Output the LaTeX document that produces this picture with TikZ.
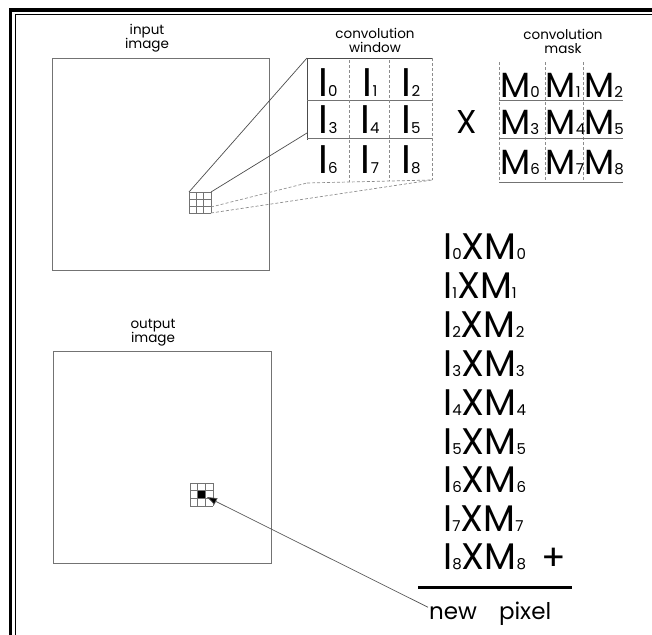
\documentclass[tikz,border=0pt]{standalone}
\usepackage{fontspec}
\setmainfont{Poppins}
\usetikzlibrary{arrows.meta}
\newcommand\dsub[1]{{\fontsize{15}{15}\selectfont #1}}
\tikzset{
  frameouter/.style={line width=3.3pt, draw=black},
  frameinner/.style={line width=1.4pt, draw=black},
  boxline/.style={draw=black!55, line width=0.8pt},
  gridline/.style={draw=black!55, line width=0.7pt},
  dotline/.style={draw=black!45, line width=0.7pt, dash pattern=on 3pt off 2pt},
  projline/.style={draw=black!70, line width=0.7pt},
  lbl/.style={inner sep=0pt, align=center, font=\fontsize{13.5}{14}\selectfont},
  cellI/.style={inner sep=0pt, anchor=base, font=\fontsize{40}{40}\selectfont},
  cellM/.style={inner sep=0pt, anchor=base west, font=\fontsize{35}{35}\selectfont},
  sumrow/.style={inner sep=0pt, anchor=base west, font=\fontsize{37}{37}\selectfont},
}
\begin{document}
\begin{tikzpicture}[x=1pt,y=-1pt]
\useasboundingbox (0,0) rectangle (652,634);
\clip (0,0) rectangle (652,634);
% frame
\draw[frameouter] (10.5,10) rectangle (720,720);
\draw[frameinner] (15.3,14.8) rectangle (720,720);

% input image
\node[lbl] (inlbl) at (147,38) {input\\image};
\coordinate (inTL) at (52,58);
\coordinate (inBR) at (269,270);
\draw[boxline] (inTL) rectangle (inBR);
% small grid in input
\foreach \i in {0,1,2,3} {
  \draw[gridline] ({189+\i*22/3},192) -- ({189+\i*22/3},213);
  \draw[gridline] (189,{192+\i*21/3}) -- (211,{192+\i*21/3});
}
\coordinate (gTL) at (189,192);
\coordinate (gTR) at (211,192);
\coordinate (gRM) at (211,207);
\coordinate (gBR) at (211,213);

% convolution window
\node[lbl] (winlbl) at (375,40) {convolution\\window};
\coordinate (wTL) at (307,58);
\coordinate (wTR) at (432,58);
\coordinate (wL2) at (307,133);
\coordinate (wBL) at (307,183);
\coordinate (wBR) at (432,180);
\draw[projline] (wTL) -- (wTR);
\draw[projline] (wTL) -- (307,140);
\draw[gridline] (307,100) -- (432,100);
\draw[gridline] (307,138) -- (432,138);
\draw[dotline] (wBL) -- (wBR);
\draw[dotline] (wTR) -- (wBR);
\draw[dotline] (349,60) -- (349,182);
\draw[dotline] (389,60) -- (389,181);
\draw[projline] (gTL) -- (wTL);
\draw[projline] (gTR) -- (wL2);
\draw[dotline] (gRM) -- (wBL);
\draw[dotline] (gBR) -- (wBR);

\node[cellI] (I0) at (328,96) {I\dsub{0}};
\node[cellI] (I1) at (370,96) {I\dsub{1}};
\node[cellI] (I2) at (411,96) {I\dsub{2}};
\node[cellI] (I3) at (328,133) {I\dsub{3}};
\node[cellI] (I4) at (370,133) {I\dsub{4}};
\node[cellI] (I5) at (411,133) {I\dsub{5}};
\node[cellI] (I6) at (328,173) {I\dsub{6}};
\node[cellI] (I7) at (370,173) {I\dsub{7}};
\node[cellI] (I8) at (411,173) {I\dsub{8}};

% times sign
\node[inner sep=0pt, font=\fontsize{33}{33}\selectfont] (times) at (467,122) {X};

% convolution mask
\node[lbl] (masklbl) at (563,41) {convolution\\mask};
\draw[dotline] (499,62) -- (499,182);
\draw[dotline] (545,62) -- (545,182);
\draw[dotline] (583,62) -- (583,182);
\draw[gridline] (499,100) -- (623,100);
\draw[gridline] (499,138) -- (623,138);
\draw[gridline] (499,182) -- (623,182);
\node[cellM] (M0) at (500,97) {M\dsub{0}};
\node[cellM] (M1) at (545.5,97) {M\dsub{1}};
\node[cellM] (M2) at (584,97) {M\dsub{2}};
\node[cellM] (M3) at (500,134) {M\dsub{3}};
\node[cellM] (M4) at (545.5,134) {M\dsub{4}};
\node[cellM] (M5) at (584,134) {M\dsub{5}};
\node[cellM] (M6) at (500,174) {M\dsub{6}};
\node[cellM] (M7) at (545.5,174) {M\dsub{7}};
\node[cellM] (M8) at (584,174) {M\dsub{8}};

% products
\node[sumrow] (p0) at (443,259) {I\dsub{0}XM\dsub{0}};
\node[sumrow] (p1) at (443,298) {I\dsub{1}XM\dsub{1}};
\node[sumrow] (p2) at (443,337) {I\dsub{2}XM\dsub{2}};
\node[sumrow] (p3) at (443,376) {I\dsub{3}XM\dsub{3}};
\node[sumrow] (p4) at (443,415) {I\dsub{4}XM\dsub{4}};
\node[sumrow] (p5) at (443,454) {I\dsub{5}XM\dsub{5}};
\node[sumrow] (p6) at (443,492) {I\dsub{6}XM\dsub{6}};
\node[sumrow] (p7) at (443,531) {I\dsub{7}XM\dsub{7}};
\node[sumrow] (p8) at (443,569) {I\dsub{8}XM\dsub{8}};
\node[inner sep=0pt, font=\fontsize{36}{36}\selectfont] (plus) at (554,559) {+};
\draw[line width=3pt] (418,587) -- (572,587);
\node[inner sep=0pt, anchor=base west, font=\fontsize{23}{23}\selectfont] (newpx) at (429,619) {new\hspace{22pt}pixel};

% output image
\node[lbl] (outlbl) at (153,333) {output\\image};
\draw[boxline] (53,351) rectangle (271,563);
\foreach \i in {0,1,2,3} {
  \draw[gridline] ({190+\i*23/3},483) -- ({190+\i*23/3},506);
  \draw[gridline] (190,{483+\i*23/3}) -- (213,{483+\i*23/3});
}
\fill[black] (197.7,490.7) rectangle (205.3,498.3);
\coordinate (outpx) at (207,497);
\draw[draw=black!65, line width=0.7pt, -{Triangle[length=10pt,width=7pt,fill=black]}] (newpx.west) ++(-1,-6) -- (outpx);
\end{tikzpicture}
\end{document}
